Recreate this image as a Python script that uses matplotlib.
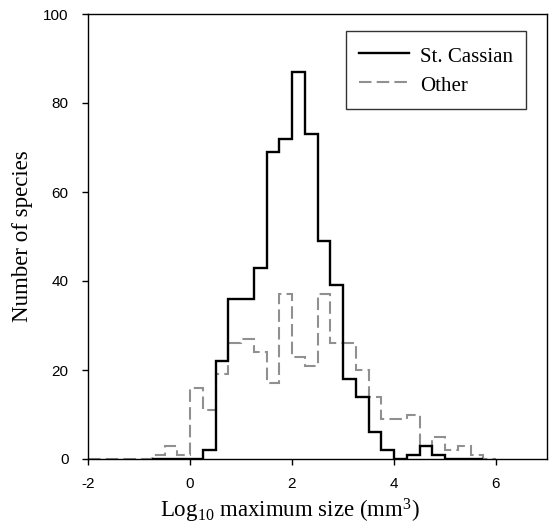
import matplotlib
matplotlib.use("Agg")
import matplotlib.pyplot as plt
from matplotlib.lines import Line2D
import numpy as np

# Bin edges (0.25 log10 units) and counts
cassian_start = -0.75
cassian_counts = [0, 0, 0, 0, 2, 22, 36, 36, 43, 69, 72, 87, 73, 49, 39, 18, 14, 6, 2, 0, 1, 3, 1, 0, 0, 0]
other_start = -2.0
other_counts = [0, 0, 0, 0, 0, 1, 3, 1, 16, 11, 19, 26, 27, 24, 17, 37, 23, 21, 37, 26, 26, 20, 14, 9, 9, 10, 3, 5, 2, 3, 1, 0]
bin_width = 0.25

x_ticks = [-2, 0, 2, 4, 6]
y_ticks = [0, 20, 40, 60, 80, 100]

plt.rcParams['mathtext.fontset'] = 'custom'
plt.rcParams['mathtext.rm'] = 'Liberation Serif'
plt.rcParams['axes.unicode_minus'] = False

GRAY = '#909090'

fig = plt.figure(figsize=(5.52, 5.26), dpi=100)
ax = fig.add_axes([88/552, 1-459/526, (547-88)/552, (459-14)/526])

ce = cassian_start + bin_width*np.arange(len(cassian_counts)+1)
oe = other_start + bin_width*np.arange(len(other_counts)+1)

ax.stairs(other_counts, oe, color=GRAY, lw=1.5, linestyle=(0, (6, 2.5)), baseline=None, zorder=2)
ax.stairs(cassian_counts, ce, color='black', lw=1.7, baseline=None, zorder=3)

ax.set_xlim(-2, 7)
ax.set_ylim(0, 100)
ax.set_xticks(x_ticks)
ax.set_yticks(y_ticks)
ax.tick_params(direction='out', length=4, width=1, labelsize=11)
ax.tick_params(axis='y', pad=10)
ax.tick_params(axis='x', pad=9)
for lab in ax.get_xticklabels() + ax.get_yticklabels():
    lab.set_family('Liberation Sans')
for s in ax.spines.values():
    s.set_linewidth(1)

ax.set_xlabel(r'Log$\mathregular{_{10}}$ maximum size (mm$\mathregular{^{3}}$)', family='Liberation Serif', fontsize=16.5)
ax.xaxis.set_label_coords(0.44, -0.085, transform=ax.transAxes)
ax.xaxis.label.set_va('top')
ax.set_ylabel('Number of species', family='Liberation Serif', fontsize=16.5, labelpad=7)

handles = [Line2D([], [], color='black', lw=1.7), Line2D([], [], color=GRAY, lw=1.5, linestyle=(0, (6, 2.5)))]
leg = ax.legend(handles, ['St. Cassian', 'Other'], loc='upper right', bbox_to_anchor=(0.955, 0.962),
                prop={'family': 'Liberation Serif', 'size': 15}, frameon=True, fancybox=False,
                edgecolor='black', handlelength=2.4, handletextpad=0.55, borderpad=0.62,
                labelspacing=0.25, handleheight=1.3, borderaxespad=0)
leg.get_frame().set_linewidth(1)

fig.savefig('out.png', dpi=100)
